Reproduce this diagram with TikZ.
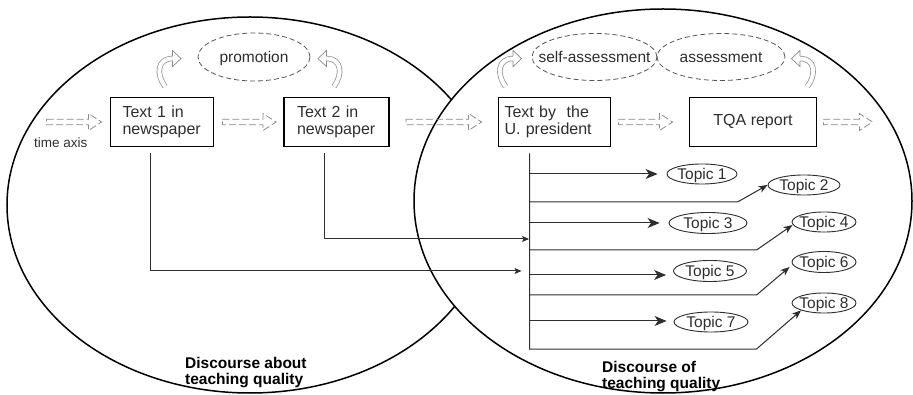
\documentclass[tikz,border=0pt]{standalone}
\usepackage{fontspec}
\setmainfont{Liberation Sans}
\usetikzlibrary{shapes.geometric,arrows.meta,calc}
\definecolor{ink}{HTML}{2E2E2E}
\definecolor{hol}{HTML}{8A8A8A}
\definecolor{dsh}{HTML}{555555}
\newcommand\ctrbox[1]{\makebox[0pt]{#1}}
\newcommand\hollowar[2]{%
  \draw[hollowline] let \p1=#1, \p2=#2 in
    (\x1,\y1+2.8pt) -- (\x2-13pt,\y1+2.8pt) -- (\x2-13pt,\y1+8.5pt) -- (\x2,\y1)
    -- (\x2-13pt,\y1-8.5pt) -- (\x2-13pt,\y1-2.8pt) -- (\x1,\y1-2.8pt) -- cycle;}
\newcommand\curvar[1]{%
  \begin{scope}[#1]
    \draw[curvshaft] (0,0) .. controls (-9,-12) and (-8,-28) .. (7.5,-28);
    \draw[curvhead] (7.5,-25.6) -- (7.5,-20) -- (16,-28) -- (7.5,-36) -- (7.5,-30.4);
  \end{scope}}
\begin{document}
\begin{tikzpicture}[x=1pt,y=-1pt,
  bigell/.style={draw=black, line width=1.5pt},
  box/.style={draw=black, line width=1.9pt, minimum width=103, minimum height=49,
    inner sep=0pt, text=ink, font=\fontsize{16}{17.5}\selectfont},
  dell/.style={ellipse, draw=dsh, line width=0.8pt, dash pattern=on 5pt off 3pt,
    inner sep=0pt, text height=11pt, text depth=0pt, text=ink,
    font=\fontsize{15.5}{16}\selectfont},
  topic/.style={ellipse, draw=ink, line width=0.9pt, inner sep=0pt,
    minimum height=20, text height=10.8pt, text depth=0pt, text=ink,
    font=\fontsize{15.5}{15.5}\selectfont},
  conn/.style={draw=ink, line width=1pt},
  bigtip/.style={-{Stealth[length=12pt,width=10pt,inset=3.5pt]}},
  midtip/.style={-{Stealth[length=9pt,width=7pt,inset=2.5pt]}},
  smalltip/.style={-{Stealth[length=7pt,width=6pt,inset=1.5pt]}},
  hollowline/.style={draw=hol, line width=0.8pt, dash pattern=on 7pt off 3pt, line join=miter},
  curvshaft/.style={draw=hol, line width=0.7pt, double=white, double distance=4pt},
  curvhead/.style={draw=hol, line width=0.7pt, fill=white, line join=miter},
  lab/.style={anchor=base west, align=left, inner sep=0pt, text=black,
    font=\bfseries\fontsize{15.5}{16}\selectfont}
]
\useasboundingbox (0,0) rectangle (913,395);

% the two discourses
\draw[bigell] (250,205) ellipse [x radius=243, y radius=188];
\draw[bigell, fill=white] (663,201) ellipse [x radius=249, y radius=192];

% texts on the time axis
\node[box, text width=79, align=left] (t1) at (162,122) {Text 1 in\\newspaper};
\node[box, minimum width=105, text width=79, align=left] (t2) at (336.5,122) {Text 2 in\\newspaper};
\node[box, minimum width=112, text width=100, align=left] (t3) at (554.5,122) {Text by\ \ the\\U. president};
\node[box, minimum width=127, align=center] (t4) at (753,122) {TQA report};

\node[anchor=base west, inner sep=0pt, text=ink, font=\fontsize{13.5}{14}\selectfont] (ta) at (34,148) {time axis};

% dashed ellipses
\node[dell, minimum width=112, minimum height=48] (pr) at (254,57) {\ctrbox{promotion}};
\node[dell, minimum width=125, minimum height=47] (sa) at (594.5,57) {\ctrbox{self-assessment}};
\node[dell, minimum width=128, minimum height=47] (as) at (721,57) {\ctrbox{assessment}};

% topics
\node[topic, minimum width=70] (tp1) at (702,174) {\ctrbox{Topic 1}};
\node[topic, minimum width=72] (tp2) at (804,185) {\ctrbox{Topic 2}};
\node[topic, minimum width=78, minimum height=21] (tp3) at (708,223) {\ctrbox{Topic 3}};
\node[topic, minimum width=64] (tp4) at (824,222) {\ctrbox{Topic 4}};
\node[topic, minimum width=73, minimum height=21] (tp5) at (710,271) {\ctrbox{Topic 5}};
\node[topic, minimum width=64, minimum height=21] (tp6) at (824,262) {\ctrbox{Topic 6}};
\node[topic, minimum width=74] (tp7) at (711,322) {\ctrbox{Topic 7}};
\node[topic, minimum width=64] (tp8) at (824,303) {\ctrbox{Topic 8}};

% hollow time-axis arrows
\coordinate (h0s) at ($(t1.west)+(-63,0)$);
\coordinate (h4e) at ($(t4.east)+(55,0)$);
\hollowar{(h0s)}{($(t1.west)+(-8,0)$)}
\hollowar{($(t1.east)+(8,0)$)}{($(t2.west)+(-7,0)$)}
\hollowar{($(t2.east)+(16,0)$)}{($(t3.west)+(-16,0)$)}
\hollowar{($(t3.east)+(7,0)$)}{($(t4.west)+(-16,0)$)}
\hollowar{($(t4.east)+(6,0)$)}{(h4e)}

% curved hollow arrows
\curvar{shift={($(t1.north west)+(55.5,-10)$)}}
\curvar{shift={($(t2.north east)+(-56,-10)$)}, xscale=-1}
\curvar{shift={($(t3.north west)+(8,-10)$)}}
\curvar{shift={($(t4.north east)+(-10,-10)$)}, xscale=-1}

% topic tree
\coordinate (vtop) at ($(t3.south west)+(32,6)$);
\coordinate (vbot) at (vtop |- 0,349);
\draw[conn, midtip] (vtop) -- (vbot) -- ++(227,0) -- (tp8.south west);
\draw[conn, bigtip] (vtop |- tp1) -- ([xshift=-9]tp1.west);
\draw[conn, midtip] (vtop |- 0,202) -- ++(208,0) -- (tp2.west);
\draw[conn, bigtip] (vtop |- tp3) -- ([xshift=-9]tp3.west);
\draw[conn, midtip] (vtop |- 0,250) -- ++(227,0) -- ($(tp4.west)+(1,3)$);
\draw[conn, bigtip] (vtop |- 0,275) -- ($(tp5.west |- 0,275)+(-7,0)$);
\draw[conn, midtip] (vtop |- 0,295) -- ++(227,0) -- ($(tp6.west)+(-2,5)$);
\draw[conn, bigtip] (vtop |- 0,321) -- ($(tp7.west |- 0,321)+(-7,0)$);

% texts feeding the discourse
\draw[conn, smalltip, shorten >=8pt] ($(t1.south west)+(41,6)$) |- (vtop |- 0,271);
\draw[conn, smalltip, shorten >=0.5pt] ($(t2.south west)+(41,6)$) |- (vtop |- 0,239);

% discourse labels (base = last line)
\node[lab] (dl) at (185,384) {Discourse about\\teaching quality};
\node[lab] (dr) at (602,388) {Discourse of\\teaching quality};
\end{tikzpicture}
\end{document}
